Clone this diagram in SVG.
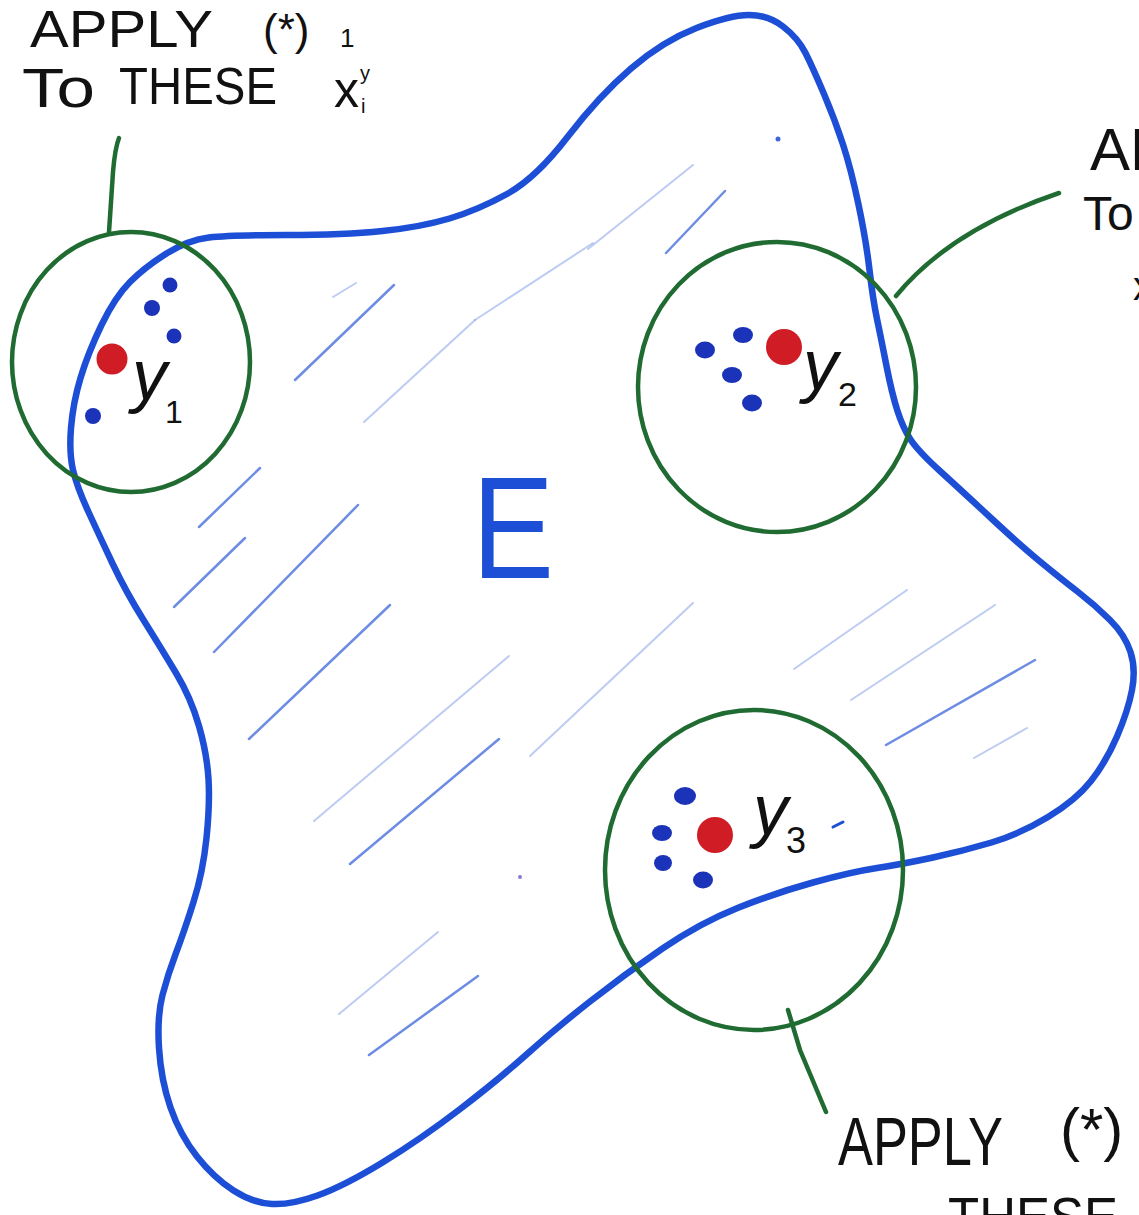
<svg xmlns="http://www.w3.org/2000/svg" width="1139" height="1215" viewBox="0 0 1139 1215">
<style>
.blob{fill:none;stroke:#1d4fd6;stroke-width:6.5;stroke-linejoin:round;stroke-linecap:round}
.ring{fill:none;stroke:#1f6b31;stroke-width:4.5}
.stem{fill:none;stroke:#1f6b31;stroke-width:4.5;stroke-linecap:round}
.hatch{stroke:#3d66da;stroke-width:2.5;stroke-linecap:round;opacity:0.75}
.faint{stroke:#7d9ae6;stroke-width:2;stroke-linecap:round;opacity:0.5}
.pt{fill:#1b33b8}
.red{fill:#d01c24}
.lbl{font-family:"Liberation Sans",Arial,sans-serif;fill:#111}
.ylab{font-family:"Liberation Sans",Arial,sans-serif;fill:#111;font-style:italic}
</style>
<rect width="1139" height="1215" fill="#ffffff"/>

<g id="hatching">
<line class="faint" x1="333" y1="297" x2="356" y2="283"/>
<line class="hatch" x1="295" y1="380" x2="394" y2="285"/>
<line class="faint" x1="364" y1="422" x2="475" y2="320"/>
<line class="faint" x1="475" y1="320" x2="593" y2="243"/>
<line class="hatch" x1="199" y1="527" x2="260" y2="468"/>
<line class="hatch" x1="174" y1="607" x2="245" y2="538"/>
<line class="hatch" x1="214" y1="652" x2="358" y2="505"/>
<line class="hatch" x1="249" y1="739" x2="390" y2="605"/>
<line class="faint" x1="314" y1="821" x2="509" y2="656"/>
<line class="hatch" x1="350" y1="864" x2="499" y2="739"/>
<line class="faint" x1="530" y1="756" x2="693" y2="603"/>
<line class="faint" x1="588" y1="249" x2="693" y2="165"/>
<line class="hatch" x1="666" y1="253" x2="725" y2="191"/>
<line class="faint" x1="794" y1="669" x2="907" y2="590"/>
<line class="faint" x1="851" y1="700" x2="995" y2="605"/>
<line class="hatch" x1="886" y1="745" x2="1035" y2="660"/>
<line class="faint" x1="974" y1="758" x2="1027" y2="728"/>
<line class="faint" x1="339" y1="1014" x2="438" y2="932"/>
<line class="hatch" x1="369" y1="1055" x2="478" y2="976"/>
<circle cx="778" cy="139" r="2.5" fill="#3d66da"/>
<circle cx="520" cy="877" r="2" fill="#8a7ad8"/>
<path d="M833,827 L843,822" stroke="#1d4fd6" stroke-width="3" stroke-linecap="round"/>
</g>

<g id="set-E">
<path class="blob" d="M130,282 Q145,267 166.5,253.5 Q188,240 209,237.5 Q230,235 287,235 Q344,235 382.5,231 Q421,227 449.5,218.5 Q478,210 507,194 Q536,178 567.5,137 Q599,96 631,68.5 Q663,41 696.5,28 Q730,15 749,15 Q768,15 783,26.5 Q798,38 805.5,53 Q813,68 824,94 Q835,120 843,144.5 Q851,169 858.5,204.5 Q866,240 869.5,270 Q873,300 877,319 Q881,338 886.5,366 Q892,394 897.5,411 Q903,428 910.5,439.5 Q918,451 940.5,471.5 Q963,492 991.5,518.5 Q1020,545 1040,561.5 Q1060,578 1077.5,591.5 Q1095,605 1110,620 Q1125,635 1130.5,652 Q1136,669 1132,690 Q1128,711 1117,736.5 Q1106,762 1091,781 Q1076,800 1048,817 Q1020,834 991.5,842.5 Q963,851 933,857.5 Q903,864 877,868 Q851,872 813,882.5 Q775,893 737.5,908 Q700,923 662.5,948.5 Q625,974 590,1001.5 Q555,1029 526.5,1054.5 Q498,1080 459.5,1109.5 Q421,1139 382.5,1162.5 Q344,1186 317.5,1195.5 Q291,1205 272,1204 Q253,1203 233.5,1190.5 Q214,1178 197,1156.5 Q180,1135 170.5,1107.5 Q161,1080 159,1048 Q157,1016 162.5,995 Q168,974 176,953 Q184,932 193.5,902 Q203,872 206.5,838 Q210,804 208.5,779 Q207,754 199,726 Q191,698 176,673 Q161,648 143.5,620 Q126,592 113,564.5 Q100,537 88.5,512 Q77,487 73,470 Q69,453 71,428 Q73,403 80.5,378 Q88,353 101.5,325 Q115,297 130,282 Z"/>
<text class="lbl" x="472" y="578" font-size="144" textLength="82" lengthAdjust="spacingAndGlyphs" style="fill:#1d4fd6">E</text>
</g>

<g id="node-y1">
<ellipse class="ring" cx="131" cy="362" rx="119" ry="130"/>
<circle class="pt" cx="170" cy="285" r="7.5"/>
<circle class="pt" cx="152" cy="308" r="8"/>
<circle class="pt" cx="174" cy="336" r="7.5"/>
<circle class="pt" cx="93" cy="416" r="8"/>
<circle class="red" cx="112" cy="359" r="15.5"/>
<text class="ylab" x="132" y="399" font-size="70">y</text>
<text class="lbl" x="165" y="423" font-size="32">1</text>
</g>

<g id="node-y2">
<ellipse class="ring" cx="777" cy="387" rx="139" ry="145"/>
<ellipse class="pt" cx="705" cy="350" rx="10" ry="8.5"/>
<ellipse class="pt" cx="743" cy="335" rx="10" ry="8"/>
<ellipse class="pt" cx="732" cy="375" rx="10" ry="8"/>
<ellipse class="pt" cx="752" cy="403" rx="10" ry="8.5"/>
<circle class="red" cx="784" cy="347" r="18"/>
<text class="ylab" x="803" y="389" font-size="70">y</text>
<text class="lbl" x="838" y="406" font-size="34">2</text>
</g>

<g id="node-y3">
<ellipse class="ring" cx="754" cy="870" rx="149" ry="160"/>
<ellipse class="pt" cx="685" cy="796" rx="11" ry="9"/>
<ellipse class="pt" cx="662" cy="833" rx="10" ry="8"/>
<ellipse class="pt" cx="663" cy="863" rx="9" ry="8"/>
<ellipse class="pt" cx="703" cy="880" rx="10" ry="8.5"/>
<circle class="red" cx="715" cy="835" r="18"/>
<text class="ylab" x="753" y="834" font-size="70">y</text>
<text class="lbl" x="786" y="853" font-size="36">3</text>
</g>

<g id="label-1">
<text class="lbl" x="30" y="47" font-size="52" textLength="183" lengthAdjust="spacingAndGlyphs">APPLY</text>
<text class="lbl" x="263" y="45" font-size="44">(*)</text>
<text class="lbl" x="340" y="47" font-size="26">1</text>
<text class="lbl" x="22" y="107" font-size="56" textLength="73" lengthAdjust="spacingAndGlyphs">To</text>
<text class="lbl" x="119" y="104" font-size="52" textLength="158" lengthAdjust="spacingAndGlyphs">THESE</text>
<text class="lbl" x="334" y="107" font-size="50">x</text>
<text class="lbl" x="360" y="80" font-size="20">y</text>
<text class="lbl" x="361" y="113" font-size="20">i</text>
</g>

<g id="label-2">
<text class="lbl" x="1090" y="170" font-size="60">APPLY</text>
<text class="lbl" x="1083" y="230" font-size="48">To</text>
<text class="lbl" x="1133" y="300" font-size="40">x</text>
</g>

<g id="label-3">
<text class="lbl" x="838" y="1165" font-size="68" textLength="165" lengthAdjust="spacingAndGlyphs">APPLY</text>
<text class="lbl" x="1060" y="1150" font-size="60">(*)</text>
<text class="lbl" x="948" y="1236" font-size="56" textLength="170" lengthAdjust="spacingAndGlyphs">THESE</text>
</g>

<g id="connectors">
<path class="stem" d="M109,232 L113,172 Q115,148 119,138"/>
<path class="stem" d="M896,296 Q950,230 1059,193"/>
<path class="stem" d="M788,1010 L800,1050 L826,1112"/>
</g>
</svg>
